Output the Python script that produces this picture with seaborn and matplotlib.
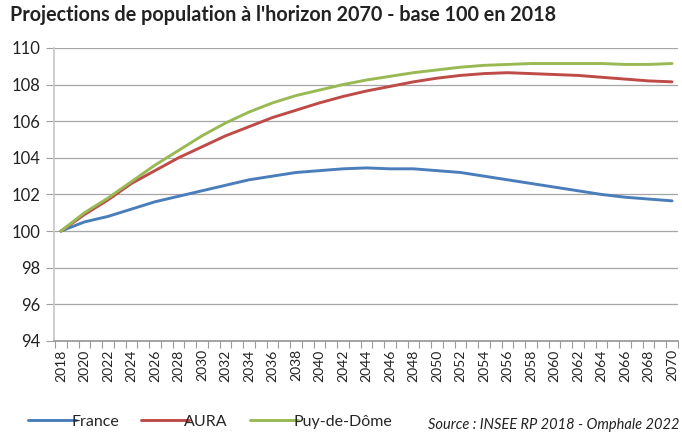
import matplotlib
matplotlib.use("Agg")
import matplotlib.pyplot as plt
import seaborn as sns
import pandas as pd
from matplotlib.lines import Line2D

years = list(range(2018, 2071, 2))
france = [100.0, 100.5, 100.8, 101.2, 101.6, 101.9, 102.2, 102.5, 102.8, 103.0, 103.2, 103.3, 103.4, 103.45,
          103.4, 103.4, 103.3, 103.2, 103.0, 102.8, 102.6, 102.4, 102.2, 102.0, 101.85, 101.75, 101.65]
aura = [100.0, 100.9, 101.7, 102.6, 103.3, 104.0, 104.6, 105.2, 105.7, 106.2, 106.6, 107.0, 107.35, 107.65,
        107.9, 108.15, 108.35, 108.5, 108.6, 108.65, 108.6, 108.55, 108.5, 108.4, 108.3, 108.2, 108.15]
puy = [100.0, 101.0, 101.8, 102.7, 103.6, 104.4, 105.2, 105.9, 106.5, 107.0, 107.4, 107.7, 108.0, 108.25,
       108.45, 108.65, 108.8, 108.95, 109.05, 109.1, 109.15, 109.15, 109.15, 109.15, 109.1, 109.1, 109.15]
series_names = ["France", "AURA", "Puy-de-Dôme"]
colors = ["#4a7ebb", "#be4b48", "#98b954"]
title = "Projections de population à l'horizon 2070 - base 100 en 2018"
source = "Source : INSEE RP 2018 - Omphale 2022"

df = pd.DataFrame({"year": years * 3,
                   "value": france + aura + puy,
                   "zone": sum([[n] * len(years) for n in series_names], [])})

sns.set_theme(style="white")
plt.rcParams["font.family"] = ["Lato", "DejaVu Sans"]

fig = plt.figure(figsize=(6.82, 4.36), dpi=100)
ax = fig.add_axes([0.079, 0.218, 0.915, 0.672])

sns.lineplot(data=df, x="year", y="value", hue="zone", palette=colors,
             hue_order=series_names, linewidth=2.1, legend=False, ax=ax)

ax.set_xlim(2017.4, 2070.5)
ax.set_ylim(94, 110)
ax.set_yticks(range(94, 111, 2))
ax.set_xticks(range(2018, 2071, 2))
ax.set_xticks([y + 0.5 for y in range(2017, 2071)], minor=True)
ax.set_xticklabels([str(y) for y in range(2018, 2071, 2)], rotation=90, fontsize=10, color="#222222")
ax.tick_params(axis="y", labelsize=12, labelcolor="#222222", length=6, color="#a0a0a0", width=0.8, pad=4, left=True)
ax.tick_params(axis="x", which="major", length=0, pad=6, bottom=True)
ax.tick_params(axis="x", which="minor", direction="out", length=5, color="#999999", width=0.8, bottom=True)
ax.yaxis.grid(True, color="#a6a6a6", linewidth=0.9)
ax.set_axisbelow(True)
for s in ["top", "right"]:
    ax.spines[s].set_visible(False)
ax.spines["left"].set_color("#c8c8c8")
ax.spines["bottom"].set_color("#999999")
ax.set_xlabel("")
ax.set_ylabel("")

fig.text(0.015, 0.966, title, fontsize=14.2, fontweight="bold", color="#222222", va="center")

handles = [Line2D([], [], color=c, linewidth=2.1) for c in colors]
fig.legend(handles, series_names, loc="center left", bbox_to_anchor=(0.02, 0.033), ncol=3,
           frameon=False, fontsize=11.5, handlelength=3.0, handletextpad=-0.3, columnspacing=1.4)
fig.text(0.628, 0.025, source, fontsize=10.5, style="italic", color="#222222", ha="left", va="center")

fig.savefig("out.png", dpi=100)
